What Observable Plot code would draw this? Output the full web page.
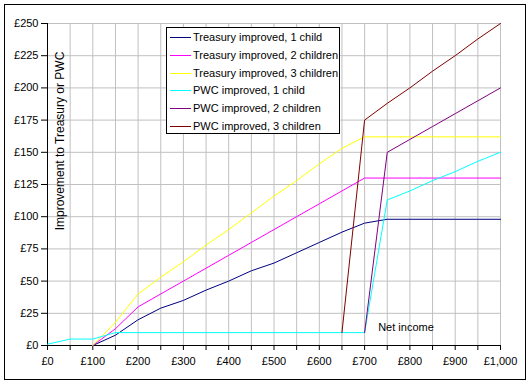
<!DOCTYPE html>
<html>
<head>
<meta charset="utf-8">
<script src="https://cdn.jsdelivr.net/npm/d3@7"></script>
<script src="https://cdn.jsdelivr.net/npm/@observablehq/plot@0.6"></script>
<style>
  body { margin: 0; background: #fff; }
  #wrap { position: relative; width: 531px; height: 384px; font-family: "Liberation Sans", Arial, sans-serif; }
  #border { position: absolute; left: 4px; top: 4px; width: 522px; height: 376px; box-sizing: border-box; border: 1px solid #000; pointer-events: none; }
  #legend { position: absolute; left: 166px; top: 27px; }
  #ytitle { position: absolute; left: 60px; top: 141px; transform: translate(-50%, -50%) rotate(-90deg); font-size: 12px; white-space: nowrap; }
  #xtitle { position: absolute; left: 406px; top: 327px; transform: translate(-50%, -50%); font-size: 11px; white-space: nowrap; }
</style>
</head>
<body>
<div id="wrap"></div>
<script>
// Data (net income in £, improvement in £)
const incomes = [0, 50, 100, 150, 200, 250, 300, 350, 400, 450, 500, 550, 600, 650, 700, 750, 800, 850, 900, 950, 1000];
const treasury1 = [null, null, 0, 8, 20, 29, 35, 43, 50, 58, 64, 72, 80, 88, 95, 98, 98, 98, 98, 98, 98];
const treasury2 = [null, null, 0, 13, 30, 40, 50, 60, 70, 80, 90, 100, 110, 120, 130, 130, 130, 130, 130, 130, 130];
const treasury3 = [null, null, 0, 18, 40, 53, 65, 78, 90, 103, 116, 128, 141, 153, 162, 162, 162, 162, 162, 162, 162];
const pwc1 = [1, 5, 5, 10, 10, 10, 10, 10, 10, 10, 10, 10, 10, 10, 10, 113, 120, 128, 135, 143, 150];
const pwc2 = [null, null, null, null, null, null, null, null, null, null, null, null, null, null, 10, 150, 160, 170, 180, 190, 200];
const pwc3 = [null, null, null, null, null, null, null, null, null, null, null, null, null, 10, 175, 188, 200, 213, 225, 238, 250];

const seriesNames = [
  "Treasury improved, 1 child",
  "Treasury improved, 2 children",
  "Treasury improved, 3 children",
  "PWC improved, 1 child",
  "PWC improved, 2 children",
  "PWC improved, 3 children"
];
const seriesValues = [treasury1, treasury2, treasury3, pwc1, pwc2, pwc3];
const seriesColors = ["#000080", "#ff00ff", "#ffff00", "#00ffff", "#800080", "#800000"];

const yTicks = [0, 25, 50, 75, 100, 125, 150, 175, 200, 225, 250];
const xTicks = [0, 50, 100, 150, 200, 250, 300, 350, 400, 450, 500, 550, 600, 650, 700, 750, 800, 850, 900, 950, 1000];
const xGrid = xTicks.filter(d => d > 0);
const yGrid = yTicks.filter(d => d > 0);
const yTitle = "Improvement to Treasury or PWC";
const xTitle = "Net income";

const rows = [];
seriesValues.forEach((vals, i) => {
  incomes.forEach((x, j) => {
    if (vals[j] != null) rows.push({x, y: vals[j], s: seriesNames[i]});
  });
});

const fmt = d3.format(",");
const chart = Plot.plot({
  width: 531,
  height: 384,
  marginLeft: 47,
  marginRight: 31,
  marginTop: 23,
  marginBottom: 39,
  style: {fontFamily: "'Liberation Sans', Arial, sans-serif", fontSize: "11px", background: "transparent", color: "#000"},
  x: {domain: [0, 1000]},
  y: {domain: [0, 250]},
  color: {domain: seriesNames, range: seriesColors},
  marks: [
    Plot.ruleX(xGrid, {stroke: "#c0c0c0", strokeWidth: 1}),
    Plot.ruleY(yGrid, {stroke: "#c0c0c0", strokeWidth: 1}),
    Plot.ruleX([0], {stroke: "#000", strokeWidth: 1}),
    Plot.ruleY([0], {stroke: "#000", strokeWidth: 1}),
    Plot.axisY({ticks: yTicks, tickFormat: d => "£" + fmt(d), tickSize: 6, tickPadding: 3, label: null, stroke: "#000"}),
    Plot.axisX({ticks: xTicks, tickFormat: d => d % 100 === 0 ? "£" + fmt(d) : "", tickSize: 5, tickPadding: 7, label: null, stroke: "#000"}),
    Plot.line(rows, {x: "x", y: "y", z: "s", stroke: "s", strokeWidth: 1, curve: "linear"})
  ]
});

const wrap = document.getElementById("wrap");
wrap.appendChild(chart);

const border = document.createElement("div");
border.id = "border";
wrap.appendChild(border);

const yt = document.createElement("div");
yt.id = "ytitle";
yt.textContent = yTitle;
wrap.appendChild(yt);

const xt = document.createElement("div");
xt.id = "xtitle";
xt.textContent = xTitle;
wrap.appendChild(xt);

// Legend box (drawn as a small SVG on top of the chart)
const lw = 174, lh = 107, rowH = 17.8, firstRow = 10;
const lg = d3.create("svg")
  .attr("id", "legend")
  .attr("width", lw)
  .attr("height", lh)
  .style("font-family", "'Liberation Sans', Arial, sans-serif")
  .style("font-size", "11px");
lg.append("rect")
  .attr("x", 0.5).attr("y", 0.5)
  .attr("width", lw - 1).attr("height", lh - 1)
  .attr("fill", "#fff").attr("stroke", "#000");
const items = lg.selectAll("g.item").data(seriesNames).join("g")
  .attr("class", "item")
  .attr("transform", (d, i) => `translate(0,${Math.round(firstRow + i * rowH)})`);
items.append("line")
  .attr("x1", 4).attr("x2", 25).attr("y1", 0.5).attr("y2", 0.5)
  .attr("stroke", (d, i) => seriesColors[i])
  .attr("stroke-width", 1)
  .attr("shape-rendering", "crispEdges");
items.append("text")
  .attr("x", 27).attr("y", 0.5).attr("dy", "0.35em")
  .attr("fill", "#000")
  .text(d => d);
wrap.appendChild(lg.node());
</script>
</body>
</html>
